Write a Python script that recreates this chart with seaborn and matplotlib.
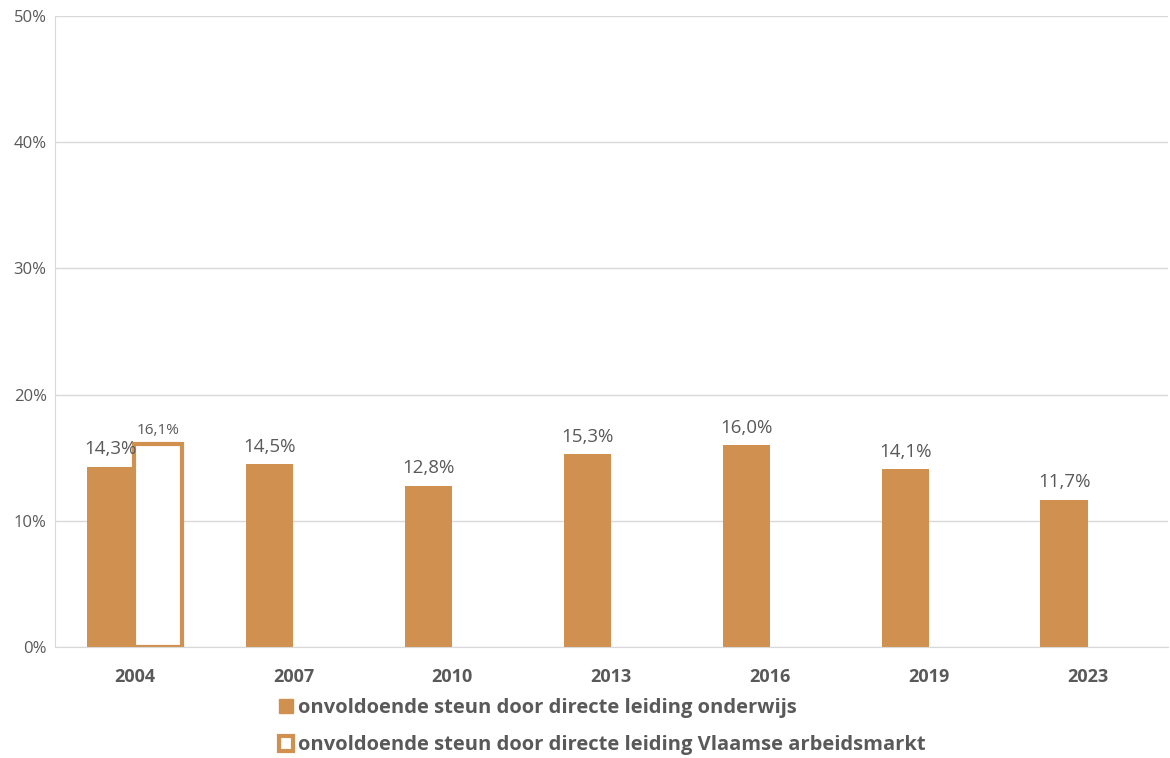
import numpy as np
import pandas as pd
import matplotlib
matplotlib.use("Agg")
import matplotlib.pyplot as plt
import seaborn as sns
from matplotlib.patches import Patch

years = ["2004", "2007", "2010", "2013", "2016", "2019", "2023"]
onderwijs = [14.3, 14.5, 12.8, 15.3, 16.0, 14.1, 11.7]
vlaamse = [16.1, np.nan, np.nan, np.nan, np.nan, np.nan, np.nan]
serie_namen = ["onvoldoende steun door directe leiding onderwijs",
               "onvoldoende steun door directe leiding Vlaamse arbeidsmarkt"]

oranje = "#D09150"
grijs = "#595959"

df = pd.DataFrame({
    "jaar": years * 2,
    "waarde": onderwijs + vlaamse,
    "reeks": [serie_namen[0]] * len(years) + [serie_namen[1]] * len(years),
}).dropna()

sns.set_style("white")
plt.rcParams["font.family"] = ["Open Sans", "DejaVu Sans"]

fig, ax = plt.subplots(figsize=(11.7, 7.58), dpi=100)
fig.subplots_adjust(left=0.047, right=0.998, top=0.979, bottom=0.146)

sns.barplot(data=df, x="jaar", y="waarde", hue="reeks", hue_order=serie_namen,
            order=years, palette=[oranje, oranje], width=0.6, gap=0, ax=ax,
            legend=False, saturation=1, err_kws={"linewidth": 0})

# second series: white fill with orange border
for cont_idx, cont in enumerate(ax.containers):
    for bar in cont:
        if bar is None:
            continue
        if cont_idx == 1:
            bar.set_facecolor("white")
            bar.set_edgecolor(oranje)
            bar.set_linewidth(3)
        else:
            bar.set_edgecolor("none")

def fmt(v):
    return f"{v:.1f}%".replace(".", ",")

ax.bar_label(ax.containers[0], labels=[fmt(v) for v in onderwijs],
             padding=6, fontsize=13.5, color=grijs)
ax.bar_label(ax.containers[1], labels=[fmt(v) for v in vlaamse if not np.isnan(v)],
             padding=4, fontsize=11, color=grijs)

ax.set_ylim(0, 50)
ax.set_yticks([0, 10, 20, 30, 40, 50])
ax.set_yticklabels([f"{t}%" for t in range(0, 60, 10)], fontsize=12, color=grijs)
ax.set_xticks(range(len(years)))
ax.set_xticklabels(years, fontsize=13, fontweight="bold", color=grijs)
ax.tick_params(axis="x", length=0, pad=15)
ax.tick_params(axis="y", length=0, pad=6)
ax.set_xlabel("")
ax.set_ylabel("")
ax.set_xlim(-0.5, len(years) - 0.5)

ax.yaxis.grid(True, color="#D9D9D9", linewidth=1)
ax.set_axisbelow(True)
for s in ["top", "right"]:
    ax.spines[s].set_visible(False)
ax.spines["left"].set_color("#D9D9D9")
ax.spines["bottom"].set_color("#D9D9D9")

handles = [Patch(facecolor=oranje, edgecolor=oranje),
           Patch(facecolor="white", edgecolor=oranje, linewidth=3)]
leg = fig.legend(handles, serie_namen, loc="upper left", bbox_to_anchor=(0.223, 0.103),
                 ncol=1, frameon=False, handlelength=0.7, handleheight=0.75,
                 handletextpad=0.25, labelspacing=0.85,
                 prop={"weight": "bold", "size": 14.5})
for t in leg.get_texts():
    t.set_color(grijs)

fig.savefig("out.png", dpi=100)
